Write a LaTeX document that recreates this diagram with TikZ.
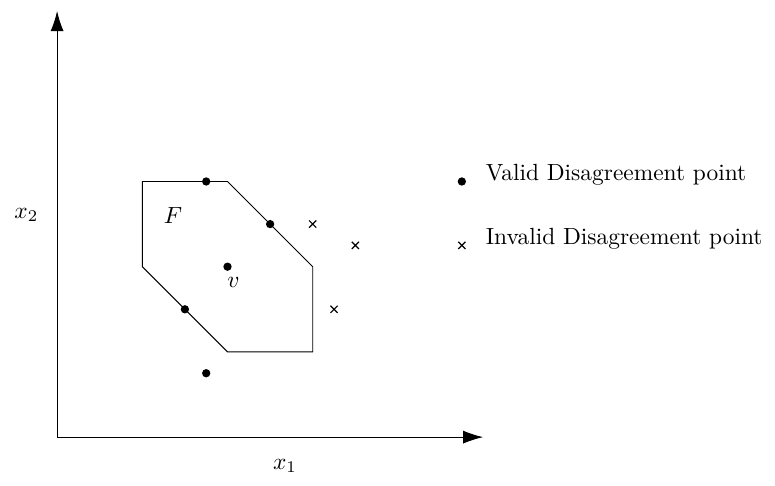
\documentclass[tikz,border=0pt]{standalone}
\usepackage{amsmath,amssymb}
\usepackage{tikz}
\usetikzlibrary{positioning,calc}
\usetikzlibrary{arrows.meta,shapes.misc}
\tikzset{dot/.style={circle,fill=black,inner sep=0pt,minimum size=1.25mm}, cross/.style={cross out,draw=black,inner sep=0pt,minimum size=0.9mm,line width=0.5pt},axis/.style={-{Latex[length=3mm,width=1.95mm]},line width=0.4pt}}

\begin{document}
\begin{tikzpicture}[x=0.64cm,y=0.64cm]
\useasboundingbox (-1.34,-1.13) rectangle (16.85,10.26);
\coordinate (o) at (0,0);
\coordinate (xe) at (10,0);
\coordinate (ye) at (0,10);
\draw[axis] (o) -- (xe);
\draw[axis] (o) -- (ye);
\node (xl) at (5.35,-0.68) {$x_1$};
\node (yl) at (-0.72,5.21) {$x_2$};
% feasible set
\coordinate (pa) at (2,6);
\coordinate (pb) at (4,6);
\coordinate (pc) at (6,4);
\coordinate (pd) at (6,2);
\coordinate (pe) at (4,2);
\coordinate (pf) at (2,4);
\draw[line width=0.4pt] (pa) -- (pb) -- (pc) -- (pd) -- (pe) -- (pf) -- cycle;
\node (fl) at (2.72,5.19) {$F$};
\node[dot] (v) at (4,4) {};
\node (vl) at ($(v)+(0.14,-0.36)$) {$v$};
\node[dot] (da) at (3.5,6) {};
\node[dot] (db) at (5,5) {};
\node[dot] (dc) at (3,3) {};
\node[dot] (dd) at (3.5,1.5) {};
\node[cross] (ca) at (6,5) {};
\node[cross] (cb) at (7,4.5) {};
\node[cross] (cc) at (6.5,3) {};
% legend
\node[dot] (ld) at (9.5,6) {};
\node[anchor=base west,inner sep=0pt] (lt1) at ($(ld)+(0.55,0.02)$) {Valid Disagreement point};
\node[cross] (lc) at (9.5,4.5) {};
\node[anchor=base west,inner sep=0pt] (lt2) at ($(lc)+(0.55,0.02)$) {Invalid Disagreement point};
\end{tikzpicture}
\end{document}
